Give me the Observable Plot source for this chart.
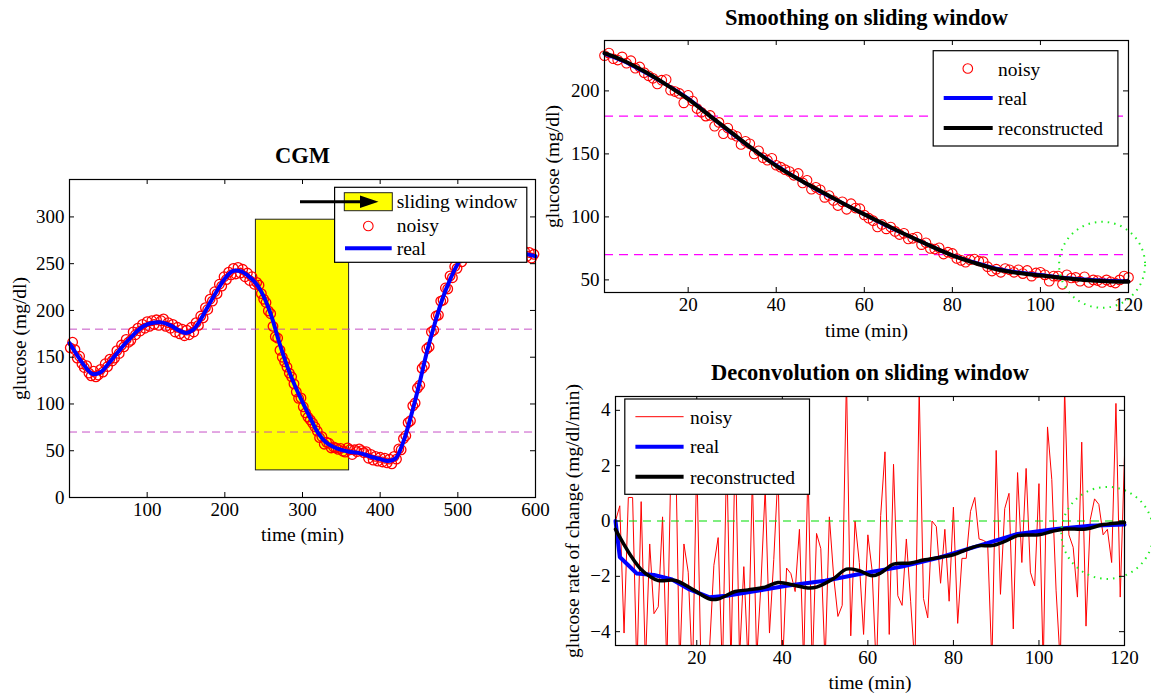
<!DOCTYPE html>
<html><head><meta charset="utf-8">
<script src="https://cdn.jsdelivr.net/npm/d3@7"></script>
<script src="https://cdn.jsdelivr.net/npm/@observablehq/plot@0.6"></script>
<style>
body{margin:0;background:#fff;}
#wrap{position:relative;width:1151px;height:695px;overflow:hidden;background:#fff;}
#wrap svg{position:absolute;}
</style></head><body><div id="wrap"></div>
<script>
const FONT = "'Liberation Serif','Times New Roman',serif";

// ---------- CGM panel ----------
const cgmTimeKey = [0,10,20,30,40,50,60,70,80,90,100,110,120,130,140,150,160,170,180,190,200,210,220,230,240,250,260,270,280,290,300,310,320,330,340,350,360,370,380,390,400,410,420,430,440,450,460,470,480,490,500,510,520,530,540,550,560,570,580,590,600];
const cgmReal = [165,152,140,132,134,143,153,163,172,180,185,187,187,184,179,176,180,192,207,221,234,242,242,237,229,215,194,166,141,120,102,85,69,59,54,51,49,48,46,43,41,39,42,60,88,120,155,185,212,233,250,261,267,270,270,269,267,265,262,260,258];
const cgmNoisyTime = d3.range(1, 600, 3);
const cgmNoisy = [160,166,158,149,151,143,139,141,133,130,
135,129,131,137,134,143,140,148,146,149,
157,154,163,161,169,166,168,177,174,181,
178,185,181,188,183,189,185,190,184,189,
191,183,187,181,185,177,182,175,180,173,
179,174,182,177,187,184,194,192,203,201,
212,210,220,218,228,226,236,233,241,238,
245,239,246,240,244,236,240,232,236,228,
230,227,218,212,208.5,199.5,196.5,183,172,170.5,
157.5,150,145,139.5,133,129,121.5,113,106,106.5,
97,90.5,86,83,79.5,75.5,71,64,65,57,
59,58,53,54,53,51.5,52.5,49.5,48.5,53,
51,46,51,49,52,50,48,49,42,46,
40,44,39,43,38,42,37,41,36,44,
41,52,51,63,66,80,82,98,101,117,
120,138,141,159,161,177,179,194,195,210,
211,224,223,237,235,247,245,256,252,262,
258,266,262,270,265,272,267,273,267,273,
267,272,266,271,266,270,264,269,263,268,
262,266,260,265,259,263,258,262,256,260];
const thresholds = [70, 180];
const windowStart = [240], windowEnd = [360], windowLow = [29], windowHigh = [297];
const cgmXTicks = [100,200,300,400,500,600];
const cgmYTicks = [0,50,100,150,200,250,300];

// ---------- Smoothing panel ----------
const smoothTimeKey = [1,5,10,15,20,25,30,35,40,45,50,55,60,65,70,75,80,85,90,95,100,105,110,115,120];
const smoothReal  = [229.5,224,215,205,194,180,166,153,141,130,120,111,102,93,85,77,69.5,64,59,56,54,52,50.5,49.5,49];
const smoothRecon = [230,224.5,215.5,205,193.5,180,166.5,153,140.5,130,120.5,111,102,93.5,85,77,69.5,63.5,58.5,55.5,53.5,51.5,50,49,48.5];
const smoothNoisyTime = d3.range(1, 121);
const smoothNoisy = [228,230,225.5,224.5,227,222,224,218,219,214.5,
212,210,205.5,208.5,209,200.5,199.5,198,190.5,196.5,
192,186,183,180,180.5,172,175,166,170.5,165.5,
164,157.5,160,158,150,152.5,147,145,146.5,141,
139.5,137.5,136,133,134.5,127,129,122,123.5,121.5,
115.5,117,113,109,112,106,110.5,107,106.5,101.5,
99,97,92,94,90.5,92,88.5,86,87,82.5,
83,84,78,79.5,75,74.5,75.5,70.5,72,71,
67,65.5,64,66,66.5,65,64.5,60.5,57,58.5,
56,59,58,56,58,55,57.5,53,55.5,56,
54,49,53,53,46.5,54,51.5,52,49,52.5,
48,50,49.5,48,50,48.5,47.5,50,53,52];
const smoothXTicks = [20,40,60,80,100,120];
const smoothYTicks = [50,100,150,200];
const smoothFocusT = [114], smoothFocusG = [62];

// ---------- Deconvolution panel ----------
const derivTime = d3.range(1, 121);
const derivNoisy = [0,0.55,-4.05,0.85,0.85,-5.5,0.7,-5.2,-0.83,-3.35,
-3.1,0.15,-5.3,2.4,3.1,-5.4,-0.83,-1.85,-5.6,2.2,
-5.5,-5,-4.6,-1.6,-0.6,-5.5,2.5,-5.3,3,-5,
-1.65,-5.2,1.6,-5,-2.3,1.2,-4.05,-1.4,1.8,-5.5,
-1.7,-1.9,-2.55,-0.3,-5.2,2,-5.4,-0.45,-1,-5.2,
0.15,-2,-3.45,-3.05,5.2,-4.15,0,-1.5,-4.1,-0.5,
-1.8,-5.5,0.2,2.5,-4.1,2.05,-2.7,-3.05,-0.65,-2.9,
-5.3,4.8,-2.8,-3.5,0,-0.2,-2.25,-0.3,-2.9,0.5,
-3.7,-1.35,-1.35,0.35,0.85,-0.65,-0.7,-0.8,-5.2,2.55,
-2.65,0.45,1,-3.9,1.75,-1.5,1.9,-1.85,-2.35,1.35,
-5.3,3.4,1.5,-2.5,-5.2,4.8,-0.5,-0.95,-2.75,2.85,
-3.8,0.05,0.8,0.6,-0.5,-0.3,-1.5,4.25,-2.75,2.35];
const derivRealTime = [1,2,4,6,10,14,18,23,27,32,41,50,59,68,77,86,95,104,112,120];
const derivReal = [0,-1.3,-1.6,-1.9,-1.95,-2.1,-2.45,-2.76,-2.7,-2.58,-2.34,-2.16,-1.89,-1.65,-1.31,-0.89,-0.47,-0.29,-0.17,-0.13];
const derivReconTime = [1,3,5,7,9,11,15,19,23,25,29,32,36,39,43,46,48,52,55,58,61,63,66,70,73,77,80,84,86,89,92,95,100,103,106,111,115,120];
const derivRecon = [-0.3,-0.85,-1.35,-1.75,-2,-2.15,-2.15,-2.47,-2.82,-2.82,-2.55,-2.49,-2.39,-2.22,-2.33,-2.42,-2.39,-2.08,-1.74,-1.8,-1.98,-1.88,-1.56,-1.52,-1.41,-1.31,-1.22,-0.98,-0.89,-0.89,-0.74,-0.53,-0.5,-0.38,-0.29,-0.29,-0.13,-0.05];
const derivXTicks = [20,40,60,80,100,120];
const derivYTicks = [-4,-2,0,2,4];
const derivZero = [0];
const derivFocusT = [116], derivFocusV = [-0.43];

const zip = (xs, ys) => xs.map((x, i) => ({x, y: ys[i]}));
const wrap = document.getElementById("wrap");
const TICK = 5;

function panel(o) {
  const [mt, mr, mb, ml] = o.margin;
  const fw = o.width - ml - mr, fh = o.height - mt - mb;
  const svg = Plot.plot({
    width: o.width, height: o.height,
    marginTop: mt, marginRight: mr, marginBottom: mb, marginLeft: ml,
    x: {domain: o.xDomain}, y: {domain: o.yDomain},
    style: {fontFamily: FONT, fontSize: "19px", color: "black", background: "transparent", overflow: "visible"},
    marks: [
      ...o.marks,
      Plot.frame({stroke: "black", strokeWidth: 1.2}),
      // inward ticks on all four sides
      Plot.ruleX(o.xTicks, {x: d => d, insetTop: fh - TICK, stroke: "black", strokeWidth: 1}),
      Plot.ruleX(o.xTicks, {x: d => d, insetBottom: fh - TICK, stroke: "black", strokeWidth: 1}),
      Plot.ruleY(o.yTicks, {y: d => d, insetRight: fw - TICK, stroke: "black", strokeWidth: 1}),
      Plot.ruleY(o.yTicks, {y: d => d, insetLeft: fw - TICK, stroke: "black", strokeWidth: 1}),
      Plot.axisX({ticks: o.xTicks, anchor: "bottom", tickSize: 0, tickPadding: 5, label: null, fontSize: 19}),
      Plot.axisY({ticks: o.yTicks, anchor: "left", tickSize: 0, tickPadding: 5, label: null, fontSize: 19}),
      Plot.text([o.title], {text: d => d, frameAnchor: "top", lineAnchor: "middle", textAnchor: "middle", dy: o.titleDy, fontWeight: "bold", fontSize: 22.5}),
      Plot.text([o.xLabel], {text: d => d, frameAnchor: "bottom", lineAnchor: "middle", textAnchor: "middle", dy: o.xLabelDy, fontSize: 19.5}),
      Plot.text([o.yLabel], {text: d => d, frameAnchor: "left", lineAnchor: "middle", textAnchor: "middle", dx: o.yLabelDx, rotate: -90, fontSize: 19.5})
    ]
  });
  svg.style.left = o.left + "px";
  svg.style.top = o.top + "px";
  wrap.appendChild(svg);
}

// CGM
panel({
  left: 0, top: 130, width: 560, height: 420, margin: [49, 25, 53, 69],
  xDomain: [0, 600], yDomain: [0, 340], xTicks: cgmXTicks, yTicks: cgmYTicks,
  title: "CGM", titleDy: -24, xLabel: "time (min)", xLabelDy: 37,
  yLabel: "glucose (mg/dl)", yLabelDx: -49.5,
  marks: [
    Plot.rect(windowStart.map((s, i) => ({x1: s, x2: windowEnd[i], y1: windowLow[i], y2: windowHigh[i]})),
      {x1: "x1", x2: "x2", y1: "y1", y2: "y2", fill: "#ffff00", stroke: "#222", strokeWidth: 1}),
    Plot.ruleY(thresholds, {stroke: "#c03cc0", strokeWidth: 0.9, strokeDasharray: "8,5"}),
    Plot.dot(zip(cgmNoisyTime, cgmNoisy), {x: "x", y: "y", r: 4.8, stroke: "#ff0000", strokeWidth: 1.3}),
    Plot.line(zip(cgmTimeKey, cgmReal), {x: "x", y: "y", stroke: "#0000ff", strokeWidth: 4, curve: "catmull-rom"})
  ]
});

// Smoothing
panel({
  left: 540, top: 0, width: 611, height: 350, margin: [40, 23, 58, 64],
  xDomain: [1, 120], yDomain: [40, 240], xTicks: smoothXTicks, yTicks: smoothYTicks,
  title: "Smoothing on sliding window", titleDy: -23, xLabel: "time (min)", xLabelDy: 38,
  yLabel: "glucose (mg/dl)", yLabelDx: -52,
  marks: [
    Plot.ruleY(thresholds, {stroke: "#ff00ff", strokeWidth: 1.2, strokeDasharray: "9,6"}),
    Plot.dot(zip(smoothNoisyTime, smoothNoisy), {x: "x", y: "y", r: 4.8, stroke: "#ff0000", strokeWidth: 1.1}),
    Plot.line(zip(smoothTimeKey, smoothReal), {x: "x", y: "y", stroke: "#0000ff", strokeWidth: 3.5, curve: "catmull-rom"}),
    Plot.line(zip(smoothTimeKey, smoothRecon), {x: "x", y: "y", stroke: "#000", strokeWidth: 4, curve: "catmull-rom"}),
    Plot.dot(zip(smoothFocusT, smoothFocusG), {x: "x", y: "y", r: 43, stroke: "#22ee22", strokeWidth: 2, strokeDasharray: "1.5,5"})
  ]
});

// Deconvolution
panel({
  left: 540, top: 350, width: 611, height: 345, margin: [46, 27, 50, 75],
  xDomain: [1, 120], yDomain: [-4.5, 4.5], xTicks: derivXTicks, yTicks: derivYTicks,
  title: "Deconvolution on sliding window", titleDy: -24, xLabel: "time (min)", xLabelDy: 37,
  yLabel: "glucose rate of change (mg/dl/min)", yLabelDx: -43,
  marks: [
    Plot.line(zip(derivTime, derivNoisy), {x: "x", y: "y", stroke: "#ff0000", strokeWidth: 1, clip: true}),
    Plot.ruleY(derivZero, {stroke: "#00dd00", strokeWidth: 1.2, strokeDasharray: "8,6"}),
    Plot.line(zip(derivRealTime, derivReal), {x: "x", y: "y", stroke: "#0000ff", strokeWidth: 4}),
    Plot.line(zip(derivReconTime, derivRecon), {x: "x", y: "y", stroke: "#000", strokeWidth: 3.5, curve: "catmull-rom"}),
    Plot.dot(zip(derivFocusT, derivFocusV), {x: "x", y: "y", r: 46, stroke: "#22ee22", strokeWidth: 2, strokeDasharray: "1.5,5"})
  ]
});

// ---------- Legends & annotation overlay ----------
const ov = d3.select(wrap).append("svg").attr("width", 1151).attr("height", 695)
  .style("left", "0px").style("top", "0px").style("font-family", FONT).style("font-size", "19.5px");
function legendBox(x, y, w, h) {
  ov.append("rect").attr("x", x).attr("y", y).attr("width", w).attr("height", h)
    .attr("fill", "#fff").attr("stroke", "#000").attr("stroke-width", 1.2);
}
function label(x, y, s) {
  ov.append("text").attr("x", x).attr("y", y).attr("dominant-baseline", "central").text(s);
}
function swLine(x1, x2, y, color, w) {
  ov.append("line").attr("x1", x1).attr("x2", x2).attr("y1", y).attr("y2", y).attr("stroke", color).attr("stroke-width", w);
}
function swCircle(x, y) {
  ov.append("circle").attr("cx", x).attr("cy", y).attr("r", 4.8).attr("fill", "none").attr("stroke", "#ff0000").attr("stroke-width", 1.1);
}
// CGM legend
legendBox(334.6, 187.3, 192.2, 75);
ov.append("rect").attr("x", 344.3).attr("y", 192.7).attr("width", 48).attr("height", 18).attr("fill", "#ffff00").attr("stroke", "#222").attr("stroke-width", 1);
label(396.7, 201, "sliding window");
swCircle(368.3, 226);
label(396.7, 225.5, "noisy");
swLine(345, 391.7, 248.3, "#0000ff", 4);
label(396.7, 248, "real");
// arrow
swLine(300, 364, 201.7, "#000", 3);
ov.append("path").attr("d", "M360,195.5 L378.5,201.7 L360,208 Z").attr("fill", "#000");
// Smoothing legend
legendBox(933.2, 50.7, 184.7, 95.3);
swCircle(967.8, 68.5);
label(998, 69, "noisy");
swLine(943.7, 992.7, 98, "#0000ff", 4);
label(998, 98, "real");
swLine(943.7, 992.7, 128, "#000", 4);
label(998, 128, "reconstructed");
// Deconvolution legend
legendBox(624.8, 399, 184.7, 95.3);
swLine(635.4, 683.6, 416.7, "#ff0000", 1);
label(690, 417, "noisy");
swLine(635.4, 683.6, 446.7, "#0000ff", 4);
label(690, 446.7, "real");
swLine(635.4, 683.6, 476.7, "#000", 4);
label(690, 477, "reconstructed");
</script></body></html>
